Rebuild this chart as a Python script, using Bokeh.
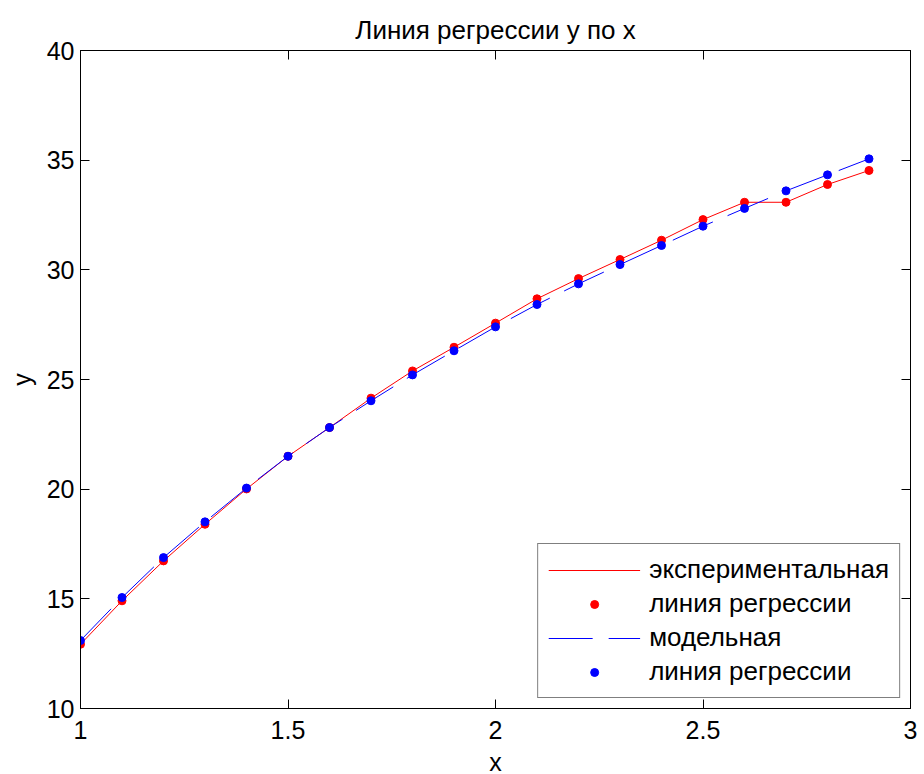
from bokeh.plotting import figure
from bokeh.models import (Range1d, LinearAxis, FixedTicker, Legend, LegendItem,
                          CustomJSTickFormatter, Title)
from bokeh.embed import file_html
from bokeh.resources import INLINE

# ---- data ----
x_vals = [1.0, 1.1, 1.2, 1.3, 1.4, 1.5, 1.6, 1.7, 1.8, 1.9,
          2.0, 2.1, 2.2, 2.3, 2.4, 2.5, 2.6, 2.7, 2.8, 2.9]
y_exp = [12.93, 14.91, 16.73, 18.40, 20.01, 21.50, 22.81, 24.15, 25.39, 26.47,
         27.57, 28.68, 29.60, 30.47, 31.35, 32.29, 33.08, 33.08, 33.89, 34.53]
y_model = [13.10, 15.06, 16.88, 18.51, 20.05, 21.50, 22.81, 24.03, 25.21, 26.31,
           27.40, 28.42, 29.36, 30.24, 31.11, 31.99, 32.80, 33.60, 34.33, 35.06]
x_ticks = [1, 1.5, 2, 2.5, 3]
y_ticks = [10, 15, 20, 25, 30, 35, 40]
title_text = "Линия регрессии y по x"
x_label = "x"
y_label = "y"
labels = ["экспериментальная", "линия регрессии", "модельная", "линия регрессии"]

FONT = "Liberation Sans"

title = Title(text=title_text, align="center", text_font=FONT, text_font_size="26px",
              text_font_style="normal", text_color="black", standoff=12)

p = figure(width=924, height=774, output_backend="svg", toolbar_location=None,
           x_range=Range1d(1, 3), y_range=Range1d(10, 40),
           frame_width=830, frame_height=658,
           min_border_left=80, min_border_right=14, min_border_top=50, min_border_bottom=66,
           title=title)

p.background_fill_color = "white"
p.border_fill_color = "white"
p.outline_line_color = "black"
p.xgrid.visible = False
p.ygrid.visible = False

fmt = CustomJSTickFormatter(code="return String(Math.round(tick*100)/100);")
blank = CustomJSTickFormatter(code="return '';")

for ax, ticks in ((p.xaxis[0], x_ticks), (p.yaxis[0], y_ticks)):
    ax.ticker = FixedTicker(ticks=ticks)
    ax.formatter = fmt
    ax.major_tick_in = 9
    ax.major_tick_out = 0
    ax.minor_tick_line_color = None
    ax.axis_line_color = "black"
    ax.major_tick_line_color = "black"
    ax.major_label_text_font = FONT
    ax.major_label_text_font_size = "25px"
    ax.major_label_text_color = "black"
    ax.axis_label_text_font = FONT
    ax.axis_label_text_font_size = "25px"
    ax.axis_label_text_font_style = "normal"
    ax.axis_label_text_color = "black"

p.xaxis[0].axis_label = x_label
p.yaxis[0].axis_label = y_label
p.xaxis[0].major_label_standoff = 12
p.xaxis[0].axis_label_standoff = 6
p.yaxis[0].major_label_standoff = 6
p.yaxis[0].axis_label_standoff = 8

# box ticks on top and right
top = LinearAxis(ticker=FixedTicker(ticks=x_ticks), formatter=blank, major_tick_in=9,
                 major_tick_out=0, minor_tick_line_color=None,
                 major_label_standoff=0, axis_line_color="black")
right = LinearAxis(ticker=FixedTicker(ticks=y_ticks), formatter=blank, major_tick_in=9,
                   major_tick_out=0, minor_tick_line_color=None,
                   major_label_standoff=0, axis_line_color="black")
p.add_layout(top, "above")
p.add_layout(right, "right")

r1 = p.line(x_vals, y_exp, line_color="#ff0000", line_width=1)
r2 = p.scatter(x_vals, y_exp, size=8, fill_color="#ff0000", line_color="#ff0000")
r3 = p.line(x_vals, y_model, line_color="#0000ff", line_width=1, line_dash="44 16")
r4 = p.scatter(x_vals, y_model, size=8, fill_color="#0000ff", line_color="#0000ff")

legend = Legend(items=[LegendItem(label=labels[0], renderers=[r1]),
                       LegendItem(label=labels[1], renderers=[r2]),
                       LegendItem(label=labels[2], renderers=[r3]),
                       LegendItem(label=labels[3], renderers=[r4])],
                location="bottom_right")
legend.margin = 10
legend.padding = 10
legend.spacing = 3
legend.glyph_width = 92
legend.glyph_height = 20
legend.label_height = 28
legend.label_standoff = 9
legend.label_text_font = FONT
legend.label_text_font_size = "26px"
legend.label_text_color = "black"
legend.border_line_color = "black"
legend.border_line_width = 1
legend.background_fill_color = "white"
legend.background_fill_alpha = 1
p.add_layout(legend, "center")

open("out.html", "w").write(file_html(p, INLINE))
